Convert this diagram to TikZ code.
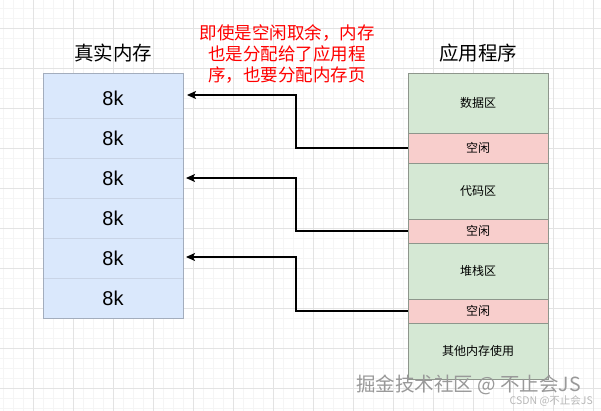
\documentclass[tikz,border=0pt]{standalone}
\usepackage{fontspec}
\setmainfont{Noto Sans CJK SC}
\newfontfamily\arialf{Liberation Sans}
\usetikzlibrary{arrows.meta}
\definecolor{minorgridc}{HTML}{F5F5F5}
\definecolor{majorgridc}{HTML}{E3E3E3}
\definecolor{bluefill}{HTML}{DAE8FC}
\definecolor{blueborder}{HTML}{A3ADBD}
\definecolor{bluediv}{HTML}{C9D4E6}
\definecolor{greenfill}{HTML}{D5E8D4}
\definecolor{pinkfill}{HTML}{F8CECC}
\definecolor{segborder}{HTML}{8E968C}
\definecolor{notered}{HTML}{FF0000}
\begin{document}
\begin{tikzpicture}[x=1pt,y=-1pt,
  minorgrid/.style={draw=minorgridc,line width=0.5pt},
  majorgrid/.style={draw=majorgridc,line width=0.8pt},
  cellm/.style={minimum width=140pt,minimum height=40pt,inner sep=0pt,outer sep=0pt,
    font=\arialf\fontsize{20}{24}\selectfont},
  seg/.style={draw=segborder,line width=0.9pt,minimum width=140pt,inner sep=0pt,outer sep=0pt,
    anchor=north,font=\fontsize{12}{14}\selectfont},
  title/.style={font=\fontsize{19.5}{23}\selectfont},
  arr/.style={draw=black,line width=1.2pt,-{Stealth[length=9pt,width=8pt,inset=2pt]}},
  divider/.style={draw=bluediv,line width=0.8pt}]
\useasboundingbox (0,0) rectangle (601,411);
\fill[white] (0,0) rectangle (601,411);
% grid
\foreach \x in {3,13,...,593} \draw[minorgrid] (\x,0) -- (\x,411);
\foreach \y in {8,18,...,408} \draw[minorgrid] (0,\y) -- (601,\y);
\foreach \x in {33,73,...,593} \draw[majorgrid] (\x,0) -- (\x,411);
\foreach \y in {28,68,...,388} \draw[majorgrid] (0,\y) -- (601,\y);
% titles
\node[title] (tleft) at (113,53) {真实内存};
\node[title] (tright) at (478,53) {应用程序};
% left memory
\fill[bluefill] (43,73) rectangle (183,318);
\node[cellm] (m1) at (113,98) {8k};
\node[cellm] (m2) at (113,138) {8k};
\node[cellm] (m3) at (113,178) {8k};
\node[cellm] (m4) at (113,218) {8k};
\node[cellm] (m5) at (113,258) {8k};
\node[cellm] (m6) at (113,298) {8k};
\foreach \i in {1,...,5} \draw[divider] (m\i.south west) -- (m\i.south east);
\draw[draw=blueborder,line width=0.9pt] (43,73) rectangle (183,318);
% right program
\node[seg,fill=greenfill,minimum height=60pt] (d1) at (478,73) {数据区};
\node[seg,fill=pinkfill,minimum height=30pt] (f1) at (d1.south) {空闲};
\node[seg,fill=greenfill,minimum height=56pt] (d2) at (f1.south) {代码区};
\node[seg,fill=pinkfill,minimum height=24pt] (f2) at (d2.south) {空闲};
\node[seg,fill=greenfill,minimum height=56pt] (d3) at (f2.south) {堆栈区};
\node[seg,fill=pinkfill,minimum height=24pt] (f3) at (d3.south) {空闲};
\node[seg,fill=greenfill,minimum height=56pt] (d4) at (f3.south) {其他内存使用};
% arrows
\draw[arr] (f1.west) -- ++(-112,0) |- ([shift={(4,-3)}]m1.east);
\draw[arr] (f2.west) -- ++(-112,0) |- ([shift={(3,0)}]m3.east);
\draw[arr] (f3.west) -- ++(-112,0) |- ([shift={(3,-1)}]m5.east);
% note
\node[text=notered,align=center,font=\fontsize{17.5}{21}\selectfont] (note) at (287,54)
  {即使是空闲取余，内存\\也是分配给了应用程\\序，也要分配内存页};
% watermark
\node[text=black!40,anchor=west,font=\fontsize{19.5}{22}\selectfont,inner sep=0pt] (wm1) at (356,385) {掘金技术社区 @ 不止会JS};
\node[text=black!28,anchor=east,font=\fontsize{10.5}{12}\selectfont,inner sep=0pt] (wm2) at (593,401) {CSDN @不止会JS};
\end{tikzpicture}
\end{document}
